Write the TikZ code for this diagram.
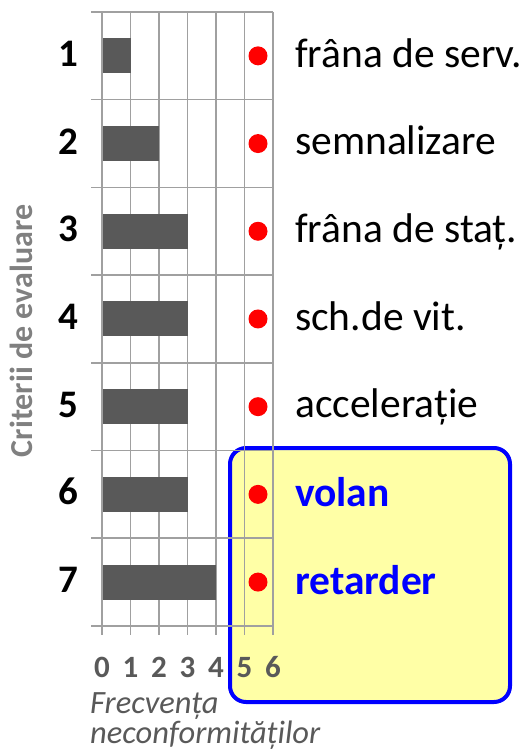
\documentclass[tikz,border=0pt]{standalone}
\usepackage{fontspec}
\setmainfont{Carlito}
\definecolor{bargray}{HTML}{595959}
\definecolor{gridgray}{HTML}{A0A0A0}
\definecolor{axisgray}{HTML}{808080}
\definecolor{boxyellow}{HTML}{FFFFA6}
\begin{document}
\begin{tikzpicture}[x = 1pt, y = -1pt,
        crit/.style = {font = \fontsize{39}{39}\selectfont\bfseries, anchor = base},
        itemtext/.style = {font = \fontsize{41.5}{41.5}\selectfont, anchor = base west, inner sep = 0},
        hightext/.style = {font = \fontsize{41.5}{41.5}\selectfont\bfseries, text = blue, anchor = base west, inner sep = 0},
        ticktext/.style = {font = \fontsize{31}{31}\selectfont\bfseries, text = bargray, anchor = base},
        axistext/.style = {font = \fontsize{32.5}{28}\selectfont\itshape, text = bargray, align = left, inner sep = 0},
        reddot/.style = {circle, fill = red, minimum size = 19pt, inner sep = 0},
        gridline/.style = {draw = gridgray, line width = 1.5pt}]
    \useasboundingbox (0, 0) rectangle (528, 750);

    % highlighted criteria
    \draw[blue, line width = 4pt, fill = boxyellow, rounded corners = 16pt] (230, 448) rectangle (510, 702);

    % grid
    \foreach \r in {0, ..., 7}
        \draw[gridline] (91, 12 + 87.7 * \r) -- (273, 12 + 87.7 * \r);
    \foreach \k in {0, ..., 6}
        \draw[gridline] (102 + 28.5 * \k, 12) -- (102 + 28.5 * \k, 635);

    % bars, dots and row numbers
    \foreach \i/\v in {1/1, 2/2, 3/3, 4/3, 5/3, 6/3, 7/4} {
        \fill[bargray] (103, 12 + 87.7 * \i - 43.85 - 17.5) rectangle (102 + 28.5 * \v, 12 + 87.7 * \i - 43.85 + 17.5);
        \node[reddot] (dot\i) at (258, 12 + 87.7 * \i - 43.85) {};
        \node[crit] (crit\i) at (68, 12 + 87.7 * \i - 33.35) {\i};
    }

    % item names
    \node[itemtext] (serv) at (295, 67) {frâna de serv.};
    \node[itemtext] (semn) at (295, 154.6) {semnalizare};
    \node[itemtext] (stat) at (295, 242.3) {frâna de staț.};
    \node[itemtext] (schv) at (295, 330) {sch.de vit.};
    \node[itemtext] (acc) at (295, 417.6) {accelerație};
    \node[hightext] (volan) at (295, 506.3) {volan};
    \node[hightext] (retarder) at (295, 594) {retarder};

    % axes
    \foreach \k in {0, ..., 6}
        \node[ticktext] (tick\k) at (102 + 28.5 * \k, 677) {\k};
    \node[axistext, anchor = base west] (freq) at (90, 743) {Frecvența\\neconformităților};
    \node[font = \fontsize{32}{32}\selectfont\bfseries, text = axisgray, rotate = 90] (crit) at (21, 331) {Criterii de evaluare};
\end{tikzpicture}
\end{document}
